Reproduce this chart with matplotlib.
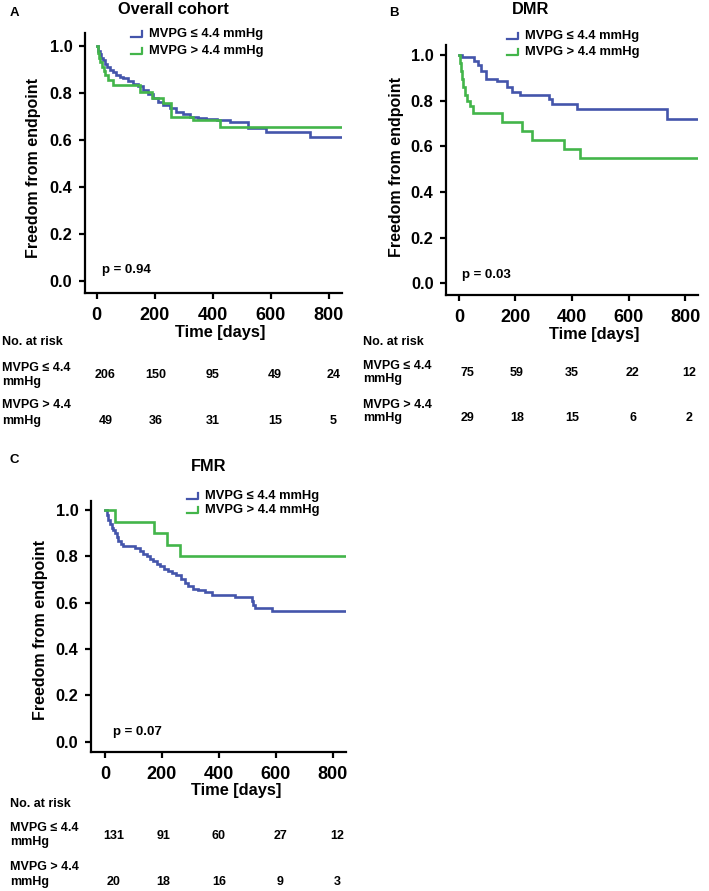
import matplotlib
matplotlib.use("Agg")
import matplotlib.pyplot as plt
import matplotlib.transforms as mtransforms
from matplotlib.lines import Line2D

plt.rcParams["font.family"] = ["Liberation Sans", "DejaVu Sans"]
plt.rcParams["font.weight"] = "bold"

W, H = 709, 891
BLUE = "#4455ab"
GREEN = "#43b54a"

SERIES_LABELS = ["MVPG \u2264 4.4 mmHg", "MVPG > 4.4 mmHg"]
RISK_LABELS = [("MVPG \u2264 4.4", "mmHg"), ("MVPG > 4.4", "mmHg")]
X_TICKS = [0, 200, 400, 600, 800]
Y_TICKS = [0.0, 0.2, 0.4, 0.6, 0.8, 1.0]

# Overall cohort
a_low_t = [0, 5, 10, 16, 22, 28, 35, 45, 55, 68, 80, 91, 108, 125, 142, 160, 177, 194,
           212, 229, 252, 275, 298, 321, 350, 378, 413, 459, 521, 585, 734, 845]
a_low_s = [1.0, 0.98, 0.965, 0.95, 0.94, 0.925, 0.91, 0.898, 0.888, 0.877, 0.87, 0.862,
           0.852, 0.84, 0.828, 0.813, 0.795, 0.777, 0.763, 0.749, 0.735, 0.72, 0.71, 0.70,
           0.695, 0.69, 0.685, 0.678, 0.65, 0.633, 0.611, 0.611]
a_high_t = [0, 4, 8, 12, 18, 24, 30, 38, 56, 148, 189, 228, 257, 331, 426, 845]
a_high_s = [1.0, 0.97, 0.948, 0.93, 0.912, 0.895, 0.877, 0.855, 0.834, 0.806, 0.777,
            0.756, 0.70, 0.685, 0.657, 0.657]
a_risk_low = [206, 150, 95, 49, 24]
a_risk_high = [49, 36, 31, 15, 5]

# DMR
b_low_t = [0, 9, 53, 68, 78, 96, 133, 169, 186, 216, 320, 330, 417, 738, 845]
b_low_s = [1.0, 0.99, 0.972, 0.955, 0.928, 0.895, 0.885, 0.86, 0.84, 0.826, 0.807,
           0.787, 0.765, 0.72, 0.72]
b_high_t = [0, 3, 6, 10, 15, 22, 29, 40, 51, 151, 222, 257, 372, 428, 845]
b_high_s = [1.0, 0.965, 0.93, 0.897, 0.862, 0.827, 0.80, 0.775, 0.746, 0.706, 0.667,
            0.627, 0.588, 0.548, 0.548]
b_risk_low = [75, 59, 35, 22, 12]
b_risk_high = [29, 18, 15, 6, 2]

# FMR
c_low_t = [0, 6, 12, 18, 23, 29, 35, 41, 47, 55, 64, 105, 123, 135, 146, 158, 170, 182,
           193, 208, 222, 237, 251, 268, 280, 292, 310, 327, 350, 374, 456, 515, 520,
           526, 585, 845]
c_low_s = [1.0, 0.98, 0.959, 0.94, 0.923, 0.912, 0.901, 0.885, 0.865, 0.853, 0.843,
           0.836, 0.822, 0.811, 0.80, 0.789, 0.778, 0.768, 0.757, 0.746, 0.735, 0.728,
           0.721, 0.70, 0.685, 0.670, 0.66, 0.653, 0.645, 0.634, 0.624, 0.605, 0.59,
           0.579, 0.562, 0.562]
c_high_t = [0, 35, 172, 218, 263, 845]
c_high_s = [1.0, 0.95, 0.90, 0.85, 0.80, 0.80]
c_risk_low = [131, 91, 60, 27, 12]
c_risk_high = [20, 18, 16, 9, 3]

RISK_COLS = [30, 205, 400, 615, 815]


def fx(x):
    return x / W


def fy(y):
    return 1 - y / H


def make_axes(fig, left, right, top, bottom, xlim, ylim):
    ax = fig.add_axes([fx(left), fy(bottom), fx(right - left), (bottom - top) / H])
    ax.set_xlim(*xlim)
    ax.set_ylim(*ylim)
    for side in ["top", "right"]:
        ax.spines[side].set_visible(False)
    for side in ["left", "bottom"]:
        ax.spines[side].set_linewidth(1.6)
    ax.set_xticks(X_TICKS)
    ax.set_yticks(Y_TICKS)
    ax.set_yticklabels([f"{v:.1f}" for v in Y_TICKS])
    ax.tick_params(axis="both", direction="out", length=4, width=1.6)
    ax.tick_params(axis="x", pad=6, labelsize=13)
    ax.tick_params(axis="y", pad=5, labelsize=11.8)
    for lab in ax.get_xticklabels() + ax.get_yticklabels():
        lab.set_fontweight("bold")
    return ax


def draw_panel(fig, ax, curves, p, letter, title, pos):
    for t, s, c in curves:
        ax.step(t, s, where="post", color=c, lw=1.9, solid_joinstyle="miter")

    fig.text(fx(pos["letter"][0]), fy(pos["letter"][1]), letter, fontsize=9.5,
             ha="center", va="center")
    fig.text(fx(pos["title"][0]), fy(pos["title"][1]), title, fontsize=11.8,
             ha="center", va="center")
    fig.text(fx(pos["ylab"][0]), fy(pos["ylab"][1]), "Freedom from endpoint",
             fontsize=11.5, rotation=90, ha="center", va="center")
    fig.text(fx(pos["xlab"][0]), fy(pos["xlab"][1]), "Time [days]", fontsize=11.8,
             ha="center", va="center")
    fig.text(fx(pos["p"][0]), fy(pos["p"][1]), p, fontsize=9.5, ha="left", va="center")

    # legend
    lx, ly, gap = pos["legend"]
    for i, (lab, c) in enumerate(zip(SERIES_LABELS, [BLUE, GREEN])):
        y = ly + i * gap
        fig.add_artist(Line2D([fx(lx), fx(lx + 11), fx(lx + 11)],
                              [fy(y + 3), fy(y + 3), fy(y - 3)],
                              color=c, lw=1.6, transform=fig.transFigure))
        fig.text(fx(lx + 18), fy(y), lab, fontsize=9.3, ha="left", va="center")

    # numbers at risk
    rx = pos["risk_x"]
    hy, r1, r2 = pos["risk_y"]
    fig.text(fx(rx), fy(hy), "No. at risk", fontsize=9, ha="left", va="center")
    trans = mtransforms.blended_transform_factory(ax.transData, fig.transFigure)
    for (l1, l2), (y1, y2, yn), vals in zip(RISK_LABELS, [r1, r2], pos["risk_vals"]):
        fig.text(fx(rx), fy(y1), l1, fontsize=9, ha="left", va="center")
        fig.text(fx(rx), fy(y2), l2, fontsize=9, ha="left", va="center")
        for xc, v in zip(RISK_COLS, vals):
            fig.text(xc, fy(yn), str(v), fontsize=9, ha="center", va="center",
                     transform=trans)


fig = plt.figure(figsize=(W / 100, H / 100), dpi=100)

ax_a = make_axes(fig, 85, 342, 33, 293, (-40, 845), (-0.05, 1.055))
draw_panel(fig, ax_a, [(a_low_t, a_low_s, BLUE), (a_high_t, a_high_s, GREEN)],
           "p = 0.94", "A", "Overall cohort",
           {"letter": (14, 13), "title": (173, 10), "ylab": (34, 168),
            "xlab": (220, 332), "p": (102, 270), "legend": (131, 34, 17),
            "risk_x": 2, "risk_y": (342, (368, 382, 375), (405, 421, 421)),
            "risk_vals": [a_risk_low, a_risk_high]})

ax_b = make_axes(fig, 446, 698, 45, 295, (-46, 846), (-0.051, 1.044))
draw_panel(fig, ax_b, [(b_low_t, b_low_s, BLUE), (b_high_t, b_high_s, GREEN)],
           "p = 0.03", "B", "DMR",
           {"letter": (394, 13), "title": (531, 10), "ylab": (396, 167),
            "xlab": (594, 335), "p": (462, 275), "legend": (507, 36, 16),
            "risk_x": 363, "risk_y": (342, (366, 379, 373), (405, 418, 418)),
            "risk_vals": [b_risk_low, b_risk_high]})

ax_c = make_axes(fig, 91, 346, 501, 752, (-49, 846), (-0.045, 1.039))
draw_panel(fig, ax_c, [(c_low_t, c_low_s, BLUE), (c_high_t, c_high_s, GREEN)],
           "p = 0.07", "C", "FMR",
           {"letter": (14, 460), "title": (209, 467), "ylab": (41, 630),
            "xlab": (236, 790), "p": (113, 732), "legend": (187, 496, 14),
            "risk_x": 10, "risk_y": (804, (828, 842, 836), (867, 882, 882)),
            "risk_vals": [c_risk_low, c_risk_high]})

fig.savefig("out.png", dpi=100)
